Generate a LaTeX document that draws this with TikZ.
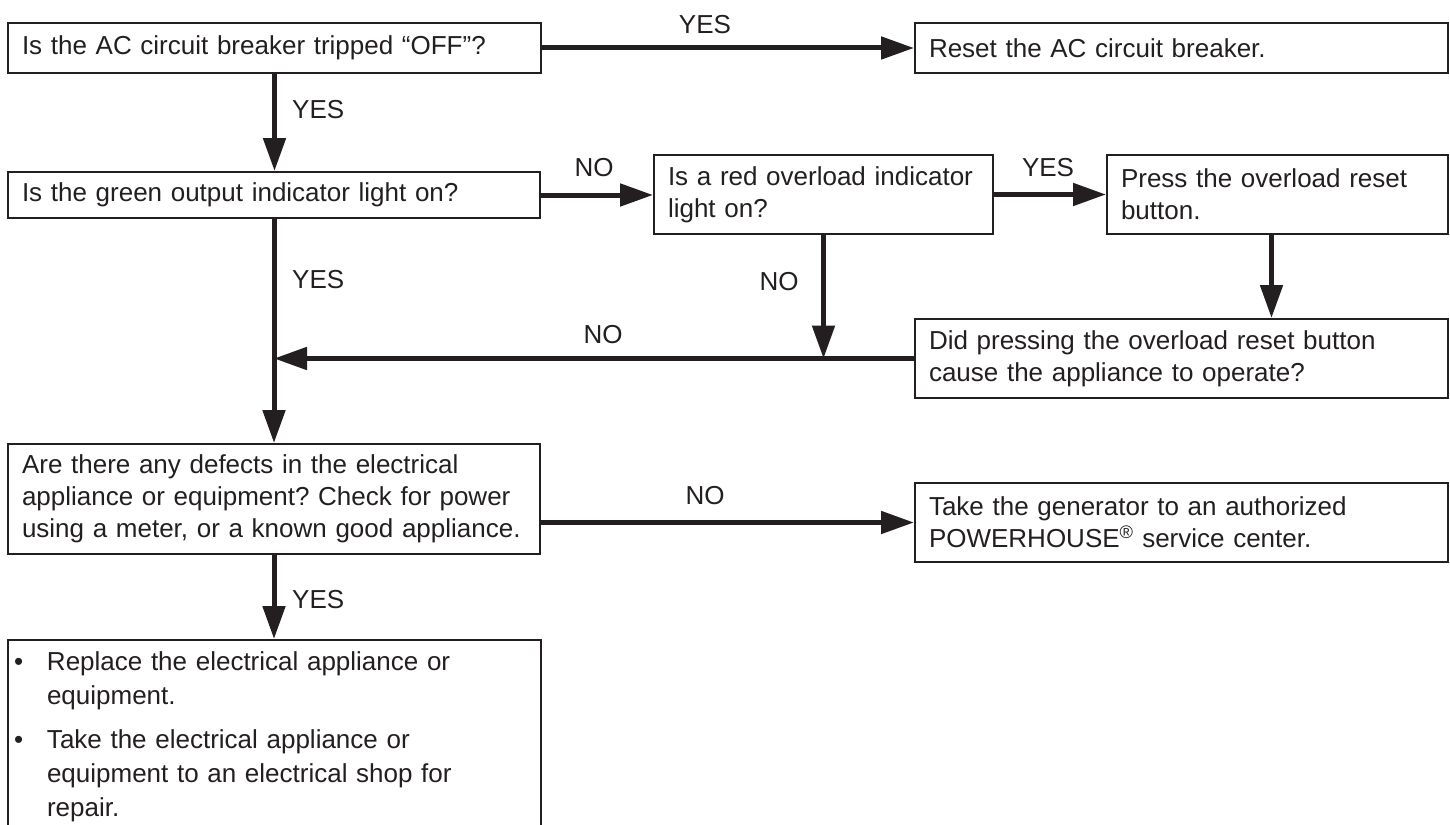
\documentclass[tikz,border=0pt]{standalone}
\usepackage{fontspec}
\setmainfont{Liberation Sans}
\usetikzlibrary{arrows.meta}
\definecolor{ink}{HTML}{231F20}
\frenchspacing
\newcommand{\bulletitem}[1]{\noindent\makebox[33pt][l]{•}\parbox[t]{470pt}{\fontsize{26}{34}\selectfont #1}\par}
\begin{document}
\begin{tikzpicture}[x=1pt,y=-1pt,
  box/.style={draw=ink, line width=2pt, text=ink, font=\fontsize{26}{32}\selectfont\frenchspacing,
    align=left, inner xsep=14pt, inner ysep=0pt, anchor=north west},
  conn/.style={draw=ink, line width=5pt, -{Triangle[length=33pt,width=22pt]}},
  lbl/.style={text=ink, font=\fontsize{26}{30}\selectfont, inner sep=0pt}
]
\useasboundingbox (0,0) rectangle (1450,824);

% boxes
\node[box, text width=505pt, minimum height=50pt] (A) at (7,22)
  {\mbox{Is the AC circuit breaker tripped “OFF”?}};
\node[box, text width=505pt, minimum height=50pt] (B) at (914,22)
  {\mbox{Reset the AC circuit breaker.}};
\node[box, text width=504pt, minimum height=46pt] (C) at (7,171)
  {\mbox{Is the green output indicator light on?}};
\node[box, text width=311pt, minimum height=79pt] (D) at (653,154)
  {\mbox{Is a red overload indicator}\\\mbox{light on?}};
\node[box, text width=313pt, minimum height=79pt] (E) at (1106,154)
  {\mbox{Press the overload reset}\\\mbox{button.}};
\node[box, text width=505pt, minimum height=79pt] (F) at (914,318)
  {\mbox{Did pressing the overload reset button}\\\mbox{cause the appliance to operate?}};
\node[box, text width=504pt, minimum height=110pt] (G) at (7,443)
  {\mbox{Are there any defects in the electrical}\\\mbox{appliance or equipment? Check for power}\\\mbox{using a meter, or a known good appliance.}};
\node[box, text width=505pt, minimum height=79pt] (H) at (914,482)
  {\mbox{Take the generator to an authorized}\\\mbox{POWERHOUSE\textsuperscript{®} service center.}};
\node[box, text width=521pt, inner xsep=6pt, inner ysep=12pt, font=\fontsize{26}{34}\selectfont\frenchspacing] (I) at (7,639)
  {\bulletitem{Replace the electrical appliance or\\equipment.}
   \vspace{18pt}
   \bulletitem{Take the electrical appliance or\\equipment to an electrical shop for\\repair.}
   \vspace*{40pt}};

% connectors
\draw[conn] (A.east) -- (B.west);
\draw[conn] (A.south) -- (A.south |- C.north);
\draw[conn] (C.east) -- (C.east -| D.west);
\draw[conn] (D.east) -- (E.west);
\draw[conn] ([xshift=-6pt]E.south) -- ([xshift=-6pt]E.south |- F.north);
\draw[conn] (D.south) -- (D.south |- F.west);
\draw[conn] (F.west) -- (F.west -| C.south);
\draw[conn] (C.south) -- (C.south |- G.north);
\draw[conn] (G.east |- H.west) -- (H.west);
\draw[conn] (G.south) -- (G.south |- I.north);

% labels
\node[lbl] (lyes1) at (705,25) {YES};
\node[lbl, anchor=west] (lyes2) at (292,110) {YES};
\node[lbl] (lno1) at (594,168) {NO};
\node[lbl] (lyes3) at (1048,168) {YES};
\node[lbl, anchor=west] (lyes4) at (292,280) {YES};
\node[lbl] (lno2) at (779,282) {NO};
\node[lbl] (lno3) at (603,335) {NO};
\node[lbl] (lno4) at (705,496) {NO};
\node[lbl, anchor=west] (lyes5) at (292,600) {YES};
\end{tikzpicture}
\end{document}
